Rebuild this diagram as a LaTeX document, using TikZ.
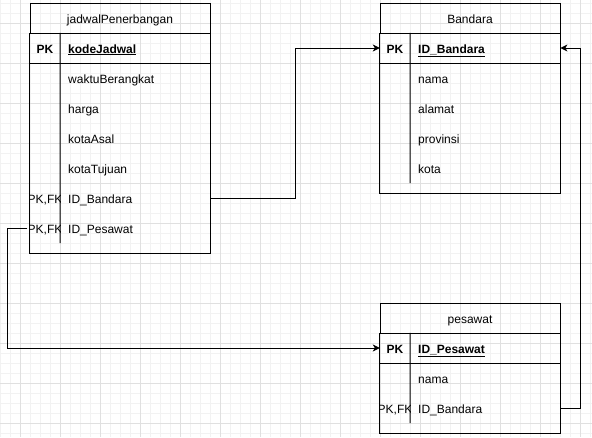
\documentclass[tikz,border=0pt]{standalone}
\usepackage{fontspec}
\setmainfont{Liberation Sans}
\usetikzlibrary{arrows.meta}
\definecolor{gridminor}{HTML}{F2F2F2}
\definecolor{gridmajor}{HTML}{E0E0E0}

\begin{document}
\begin{tikzpicture}[
  x=1pt,y=-1pt,
  font=\fontsize{12}{14}\selectfont,
  every node/.style={inner sep=0pt,text height=12pt,text depth=2pt},
  box/.style={draw,line width=1pt},
  title/.style={box,minimum width=180pt,minimum height=30pt},
  key/.style={minimum width=30pt,minimum height=30pt},
  field/.style={text width=134pt,inner xsep=8pt,minimum height=30pt,anchor=west,align=left},
  pk/.style={font=\fontsize{12}{14}\selectfont\bfseries},
  fk/.style={-{Stealth[length=7pt,width=7pt,inset=2pt]},line width=1pt}]

  \useasboundingbox (0,0) rectangle (592,437);

  % Background grid
  \foreach \x in {0,10,...,590} \draw[gridminor,line width=.8pt] (\x,0) -- (\x,437);
  \foreach \y in {3,13,...,433} \draw[gridminor,line width=.8pt] (0,\y) -- (592,\y);
  \foreach \x in {20,60,...,580} \draw[gridmajor,line width=.8pt] (\x,0) -- (\x,437);
  \foreach \y in {23,63,...,423} \draw[gridmajor,line width=.8pt] (0,\y) -- (592,\y);

  % Table jadwalPenerbangan
  \node[title] (jadwal) at (120,18) {jadwalPenerbangan};
  \node[key,pk] (jPK) at (45,48) {PK};
  \node[field,pk] (jKode) at (60,48) {\underline{kodeJadwal}};
  \node[field] (jWaktu) at (60,78) {waktuBerangkat};
  \node[field] (jHarga) at (60,108) {harga};
  \node[field] (jAsal) at (60,138) {kotaAsal};
  \node[field] (jTujuan) at (60,168) {kotaTujuan};
  \node[field] (jBandara) at (60,198) {ID\_Bandara};
  \node[field] (jPesawat) at (60,228) {ID\_Pesawat};
  \begin{scope}
    \clip (30,183) rectangle (60,243);
    \node[key] (jFK1) at (45,198) {PK,FK};
    \node[key] (jFK2) at (45,228) {PK,FK};
  \end{scope}
  \draw[box] (jadwal.south west) rectangle (210,253);
  \draw[box] (jPK.south west) -- (jKode.south east);
  \draw[box] (jPK.north east) -- (60,243);

  % Table Bandara
  \node[title] (bandara) at (470,18) {Bandara};
  \node[key,pk] (bPK) at (395,48) {PK};
  \node[field,pk] (bID) at (410,48) {\underline{ID\_Bandara}};
  \node[field] (bNama) at (410,78) {nama};
  \node[field] (bAlamat) at (410,108) {alamat};
  \node[field] (bProvinsi) at (410,138) {provinsi};
  \node[field] (bKota) at (410,168) {kota};
  \draw[box] (bandara.south west) rectangle (560,193);
  \draw[box] (bPK.south west) -- (bID.south east);
  \draw[box] (bPK.north east) -- (410,183);

  % Table pesawat
  \node[title] (pesawat) at (470,318) {pesawat};
  \node[key,pk] (pPK) at (395,348) {PK};
  \node[field,pk] (pID) at (410,348) {\underline{ID\_Pesawat}};
  \node[field] (pNama) at (410,378) {nama};
  \node[field] (pBandara) at (410,408) {ID\_Bandara};
  \begin{scope}
    \clip (380,393) rectangle (410,423);
    \node[key] (pFK) at (395,408) {PK,FK};
  \end{scope}
  \draw[box] (pesawat.south west) rectangle (560,433);
  \draw[box] (pPK.south west) -- (pID.south east);
  \draw[box] (pPK.north east) -- (410,423);

  % Relations
  \draw[fk] (jBandara.east) -- ++(85,0) |- (bPK.west);
  \draw[fk] (jFK2.west) -- ++(-20,0) |- (pPK.west);
  \draw[fk] (pBandara.east) -- ++(20,0) |- (bID.east);

\end{tikzpicture}
\end{document}
